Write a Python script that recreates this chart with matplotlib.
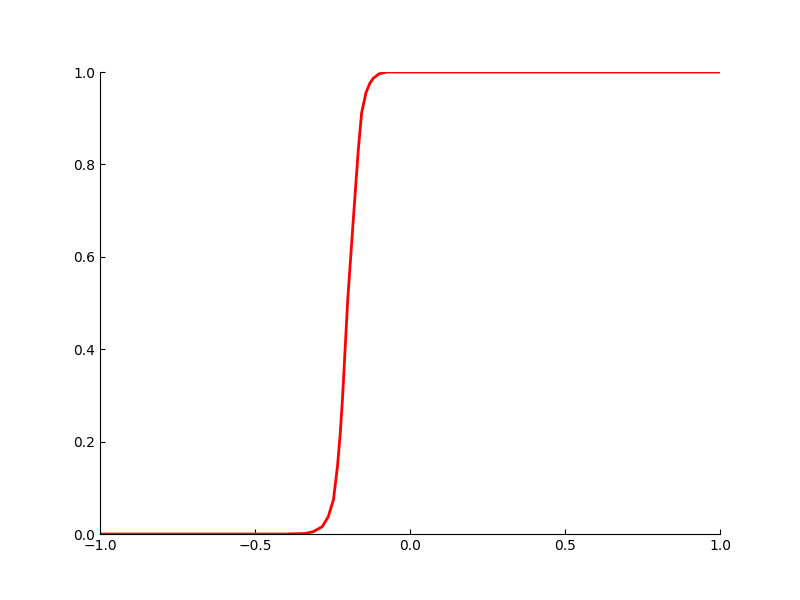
import matplotlib
matplotlib.use("Agg")
import matplotlib.pyplot as plt

# values
x_vals = [-1.0, -0.40, -0.34, -0.312, -0.283, -0.264, -0.247, -0.234,
          -0.225, -0.218, -0.201, -0.184, -0.167, -0.156, -0.142, -0.13,
          -0.119, -0.10, -0.074, 1.0]
y_vals = [0.0, 0.0, 0.001, 0.005, 0.016, 0.037, 0.074, 0.146,
          0.218, 0.29, 0.506, 0.67, 0.83, 0.912, 0.955, 0.975,
          0.986, 0.996, 1.0, 1.0]

fig, ax = plt.subplots(figsize=(8, 6), dpi=100)
ax.plot(x_vals, y_vals, color='red', linewidth=2)

ax.set_xlim(-1, 1)
ax.set_ylim(0, 1)
ax.set_xticks([-1.0, -0.5, 0.0, 0.5, 1.0])
ax.set_yticks([0.0, 0.2, 0.4, 0.6, 0.8, 1.0])

ax.spines['top'].set_visible(False)
ax.spines['right'].set_visible(False)
ax.tick_params(direction='in')

fig.savefig('out.png', dpi=100)
